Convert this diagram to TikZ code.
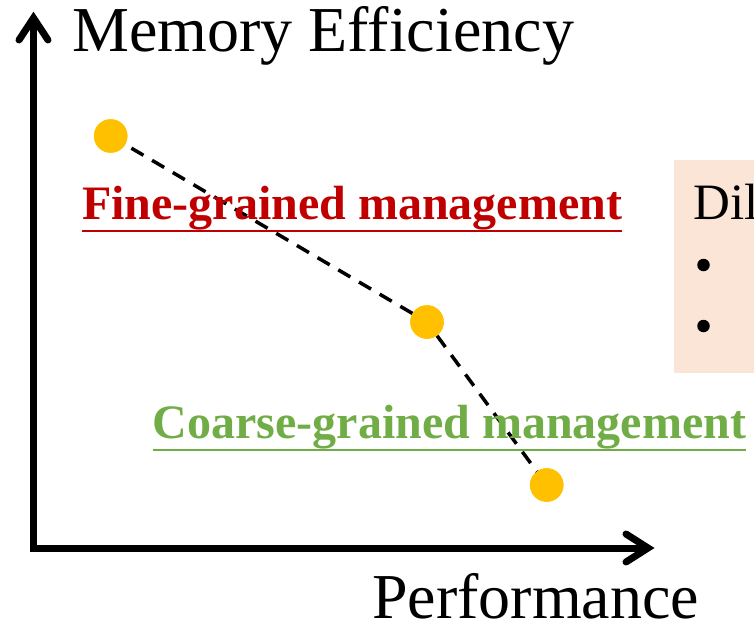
\documentclass[tikz,border=0pt]{standalone}
\usepackage{fontspec}
\setmainfont{Liberation Serif}
\definecolor{finered}{HTML}{C00000}
\definecolor{coarsegreen}{HTML}{70AD47}
\definecolor{dotgold}{HTML}{FFC000}
\definecolor{boxpeach}{HTML}{FBE5D6}
\begin{document}
\begin{tikzpicture}[x=1pt,y=-1pt,
  axis/.style={line width=7pt,line join=miter},
  barb/.style={line width=7pt,line cap=round,line join=miter},
  dot/.style={circle,fill=dotgold,minimum size=33.5pt,inner sep=0pt},
  bullet/.style={circle,fill=black,minimum size=12.5pt,inner sep=0pt},
  trend/.style={line width=3.5pt,dash pattern=on 14pt off 10pt},
  axlabel/.style={inner sep=0pt,anchor=base west,font=\fontsize{64}{66}\selectfont},
  mgmt/.style={inner sep=0pt,anchor=base west,font=\fontsize{48}{50}\selectfont\bfseries},
  uline/.style={line width=2.5pt}]
\useasboundingbox (0,0) rectangle (754,623);
\clip (0,0) rectangle (754,623);

% side panel
\fill[boxpeach] (674,160) rectangle (780,373);
\node[inner sep=0pt,anchor=base west,font=\fontsize{51}{53}\selectfont] (dil) at (693,219) {Dil};
\node[bullet] (b1) at (703.5,265) {};
\node[bullet] (b2) at (703.5,326) {};

% axes
\coordinate (ytop) at (33.5,18);
\coordinate (origin) at (33.5,548);
\coordinate (xend) at (648,548);
\draw[axis] (ytop) -- (origin) -- (xend);
\draw[barb] (19,40) -- (33.5,18) -- (48,40);
\draw[barb] (626,534) -- (648,548) -- (626,562);

\node[axlabel] (ylab) at (72,52) {Memory Efficiency};
\node[axlabel] (xlab) at (372,618) {Performance};

% trade-off curve
\node[dot] (p1) at (110.7,136) {};
\node[dot] (p2) at (427,322) {};
\node[dot] (p3) at (546.7,485) {};
\draw[trend] (p1.center) -- (p2.center) -- (p3.center);
\node[dot] at (p1) {};
\node[dot] at (p2) {};
\node[dot] at (p3) {};

% labels
\node[mgmt,text=finered] (fine) at (82,219) {Fine-grained management};
\draw[uline,finered] (fine.base west) ++(0,12) -- ([yshift=-12pt]fine.base east);
\node[mgmt,text=coarsegreen] (coarse) at (152.6,438) {Coarse-grained management};
\draw[uline,coarsegreen] (coarse.base west) ++(0,12) -- ([yshift=-12pt]coarse.base east);
\end{tikzpicture}
\end{document}
